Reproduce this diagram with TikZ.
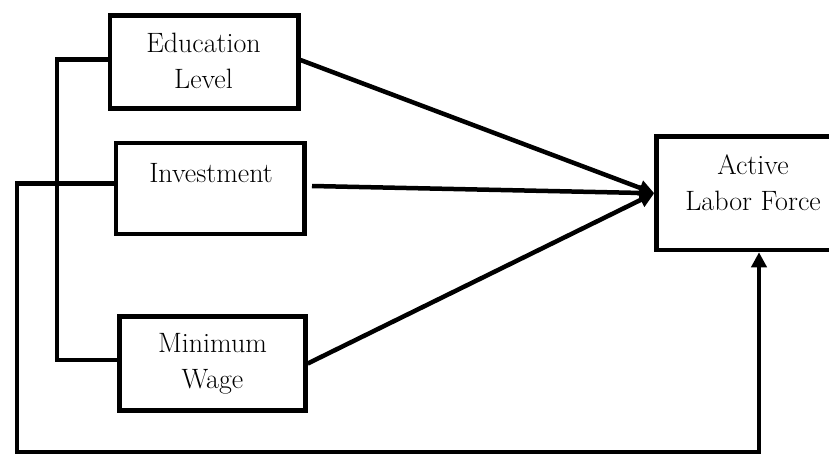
\documentclass[tikz,border=0pt]{standalone}
\usetikzlibrary{arrows.meta}
\begin{document}
\begin{tikzpicture}[x=1pt,y=-1pt,
  box/.style={draw=black,line width=4.5pt,rectangle,inner sep=0pt},
  txt/.style={align=center,inner sep=0pt,font=\fontsize{28}{36}\selectfont},
  conn/.style={draw=black,line width=4.5pt},
  arr/.style={conn,-{Triangle[length=15pt,width=15pt]}}]
\useasboundingbox (0,0) rectangle (829,457);
\clip (0,0) rectangle (829,457);
% boxes
\node[box,minimum width=188.5pt,minimum height=93pt] (edu) at (204,62) {};
\node[box,minimum width=188.5pt,minimum height=91pt] (inv) at (210,188.5) {};
\node[box,minimum width=186pt,minimum height=94pt] (mw) at (212.5,363.5) {};
\node[box,minimum width=213.5pt,minimum height=113.5pt] (alf) at (763.25,193.25) {};
% texts
\node[txt] (edut) at (203.5,60.5) {Education\\Level};
\node[txt] (invt) at (211,173.5) {Investment};
\node[txt] (mwt) at (212.5,364) {Minimum\\Wage};
\node[txt] (alft) at (753,182.5) {Active\\Labor Force};
% coordinates
\coordinate (invR) at (312,186);
\coordinate (b1) at (57,200);
\coordinate (l2) at (17,452);
\coordinate (r2) at (759,452);
% arrows into Active Labor Force
\draw[arr] ([yshift=2pt]edu.east) -- (alf.west);
\draw[arr] (invR) -- (alf.west);
\draw[arr] (mw.east) -- (alf.west);
% left bracket Education - Minimum Wage
\draw[conn] ([yshift=2.5pt]edu.west) -| (b1) |- ([yshift=3.5pt]mw.west);
% loop from Investment to Active Labor Force
\draw[arr] ([yshift=5pt]inv.west) -| (l2) -- (r2) -- (r2 |- alf.south);
\end{tikzpicture}
\end{document}
